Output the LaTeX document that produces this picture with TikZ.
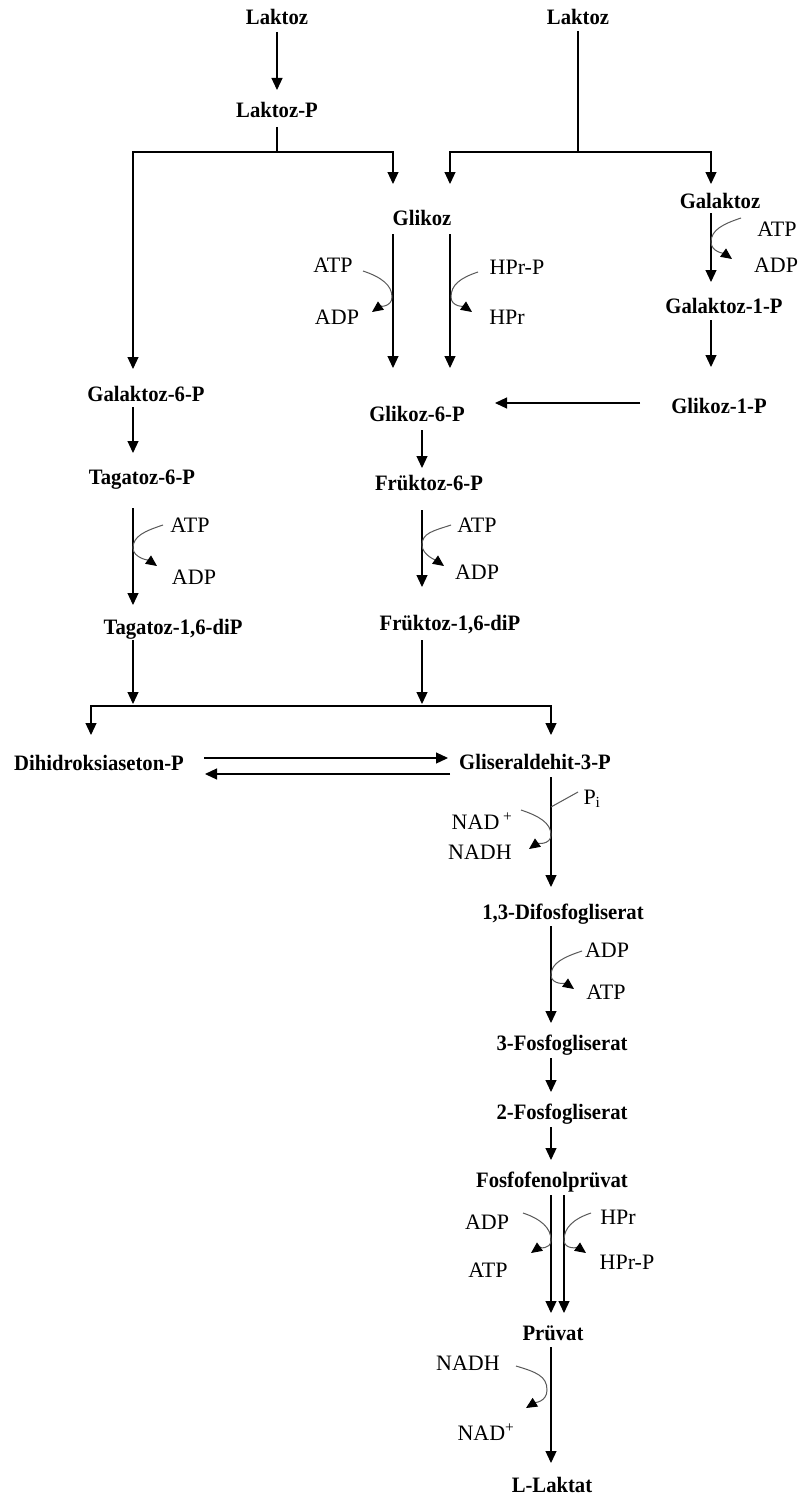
\documentclass[tikz,border=0pt]{standalone}
\usepackage{fontspec}
\setmainfont{Liberation Serif}
\newfontfamily\mlfont[FakeStretch=0.94]{Liberation Serif}
\usetikzlibrary{arrows.meta}
\tikzset{
  main/.style={font=\mlfont\bfseries\fontsize{22}{24}\selectfont, inner sep=0pt, text height=15pt, text depth=0pt},
  side/.style={font=\fontsize{22}{24}\selectfont, inner sep=0pt, text height=14pt, text depth=0pt},
  arr/.style={line width=1.2pt, -{Triangle[length=12pt,width=11pt]}},
  ln/.style={line width=1.2pt},
  curl/.style={line width=1pt, draw=black!65, -{Triangle[length=11pt,width=10pt,color=black,fill=black]}},
  thinln/.style={line width=1pt, draw=black!65},
}
\begin{document}
\begin{tikzpicture}[x=1pt,y=-1pt]
\fill[white] (0,0) rectangle (801,1501);
\useasboundingbox (0,0) rectangle (801,1501);
% column / row helpers
\coordinate (cL) at (133,0);
\coordinate (cG1) at (393,0);
\coordinate (cG2) at (450,0);
\coordinate (cF) at (422,0);
\coordinate (cGa) at (711,0);
\coordinate (cM) at (551,0);
\coordinate (cM2) at (564,0);
\coordinate (cD) at (91,0);
\coordinate (r1) at (0,403);
\coordinate (r2) at (0,706);
\coordinate (r3) at (0,758);
\coordinate (r4) at (0,774);
\coordinate (jA) at (277,152);
\coordinate (jB) at (578,152);
% main nodes
\node[main] (lakA) at (277,17) {Laktoz};
\node[main] (lakP) at (277,110) {Laktoz-P};
\node[main] (lakB) at (578,17) {Laktoz};
\node[main] (glk) at (422,218) {Glikoz};
\node[main] (gal) at (720,201) {Galaktoz};
\node[main] (gal1p) at (724,306) {Galaktoz-1-P};
\node[main] (glk1p) at (719,406) {Glikoz-1-P};
\node[main] (glk6p) at (417,414) {Glikoz-6-P};
\node[main] (gal6p) at (146,394) {Galaktoz-6-P};
\node[main] (tag6p) at (142,477) {Tagatoz-6-P};
\node[main] (tag16) at (173,627) {Tagatoz-1,6-diP};
\node[main] (fru6p) at (429,483) {Früktoz-6-P};
\node[main] (fru16) at (450,623) {Früktoz-1,6-diP};
\node[main] (dhap) at (99,763) {Dihidroksiaseton-P};
\node[main] (gap) at (535,762) {Gliseraldehit-3-P};
\node[main] (bpg) at (563,912) {1,3-Difosfogliserat};
\node[main] (pgA) at (562,1043) {3-Fosfogliserat};
\node[main] (pgB) at (562,1112) {2-Fosfogliserat};
\node[main] (pep) at (552,1180) {Fosfofenolprüvat};
\node[main] (pyr) at (553,1333) {Prüvat};
\node[main] (lac) at (552,1485) {L-Laktat};
% side labels
\node[side] (t1) at (333,265) {ATP};
\node[side] (t2) at (337,317) {ADP};
\node[side] (t3) at (517,267) {HPr-P};
\node[side] (t4) at (507,317) {HPr};
\node[side] (t5) at (777,229) {ATP};
\node[side] (t6) at (776,265) {ADP};
\node[side] (t7) at (190,525) {ATP};
\node[side] (t8) at (194,577) {ADP};
\node[side] (t9) at (477,525) {ATP};
\node[side] (t10) at (477,572) {ADP};
\node[side] (t11) at (592,797) {P\textsubscript{i}};
\node[side] (t12) at (482,822) {NAD\,\textsuperscript{+}};
\node[side] (t13) at (480,852) {NADH};
\node[side] (t14) at (607,950) {ADP};
\node[side] (t15) at (606,992) {ATP};
\node[side] (t16) at (487,1222) {ADP};
\node[side] (t17) at (488,1270) {ATP};
\node[side] (t18) at (618,1217) {HPr};
\node[side] (t19) at (627,1262) {HPr-P};
\node[side] (t20) at (468,1363) {NADH};
\node[side] (t21) at (486,1433) {NAD\textsuperscript{+}};
% main connectors
\draw[arr, shorten <=15pt, shorten >=20pt] (lakA.center) -- (lakP.center);
\draw[ln, shorten <=17pt] (lakP.center) -- (jA);
\draw[arr, shorten >=25pt] (jA) -| (gal6p.center -| cL);
\draw[arr, shorten >=34pt] (jA) -| (glk.center -| cG1);
\draw[ln, shorten <=14pt] (lakB.center) -- (jB);
\draw[arr, shorten >=34pt] (jB) -| (glk.center -| cG2);
\draw[arr, shorten >=17pt] (jB) -| (gal.center -| cGa);
\draw[arr, shorten <=16pt, shorten >=46pt] (glk.center -| cG1) -- (glk6p.center -| cG1);
\draw[arr, shorten <=16pt, shorten >=46pt] (glk.center -| cG2) -- (glk6p.center -| cG2);
\draw[arr, shorten <=12pt, shorten >=24pt] (gal.center -| cGa) -- (gal1p.center -| cGa);
\draw[arr, shorten <=14pt, shorten >=39pt] (gal1p.center -| cGa) -- (glk1p.center -| cGa);
\draw[arr, shorten <=79pt, shorten >=78pt] (glk1p.center |- r1) -- (glk6p.center |- r1);
\draw[arr, shorten <=16pt, shorten >=15pt] (glk6p.center -| cF) -- (fru6p.center -| cF);
\draw[arr, shorten <=13pt, shorten >=24pt] (gal6p.center -| cL) -- (tag6p.center -| cL);
\draw[arr, shorten <=31pt, shorten >=22pt] (tag6p.center -| cL) -- (tag16.center -| cL);
\draw[arr, shorten <=27pt, shorten >=36pt] (fru6p.center -| cF) -- (fru16.center -| cF);
\draw[arr, shorten <=13pt, shorten >=2pt] (tag16.center -| cL) -- (cL |- r2);
\draw[arr, shorten <=17pt, shorten >=2pt] (fru16.center -| cF) -- (cF |- r2);
\draw[arr, shorten >=28pt] (cF |- r2) -| (dhap.center -| cD);
\draw[arr, shorten >=27pt] (cF |- r2) -| (gap.center -| cM);
\draw[arr, shorten <=105pt, shorten >=87pt] (dhap.center |- r3) -- (gap.center |- r3);
\draw[arr, shorten <=85pt, shorten >=106pt] (gap.center |- r4) -- (dhap.center |- r4);
\draw[arr, shorten <=15pt, shorten >=25pt] (gap.center -| cM) -- (bpg.center -| cM);
\draw[arr, shorten <=14pt, shorten >=20pt] (bpg.center -| cM) -- (pgA.center -| cM);
\draw[arr, shorten <=15pt, shorten >=20pt] (pgA.center -| cM) -- (pgB.center -| cM);
\draw[arr, shorten <=15pt, shorten >=20pt] (pgB.center -| cM) -- (pep.center -| cM);
\draw[arr, shorten <=15pt, shorten >=20pt] (pep.center -| cM) -- (pyr.center -| cM);
\draw[arr, shorten <=15pt, shorten >=20pt] (pep.center -| cM2) -- (pyr.center -| cM2);
\draw[arr, shorten <=14pt, shorten >=22pt] (pyr.center -| cM) -- (lac.center -| cM);
% side curls
\coordinate (a1) at (363,271); \coordinate (a2) at (392,297); \coordinate (a3) at (372,312);
\draw[curl] (a1) .. controls +(18,6) and +(0,-12) .. (a2) .. controls +(0,10) and +(7,-5) .. (a3);
\coordinate (b1) at (478,272); \coordinate (b2) at (451,297); \coordinate (b3) at (472,312);
\draw[curl] (b1) .. controls +(-18,6) and +(0,-12) .. (b2) .. controls +(0,10) and +(-7,-5) .. (b3);
\coordinate (c1) at (741,218); \coordinate (c2) at (711,242); \coordinate (c3) at (732,259);
\draw[curl] (c1) .. controls +(-18,6) and +(0,-12) .. (c2) .. controls +(0,10) and +(-7,-5) .. (c3);
\coordinate (d1) at (163,525); \coordinate (d2) at (133,548); \coordinate (d3) at (157,566);
\draw[curl] (d1) .. controls +(-18,6) and +(0,-12) .. (d2) .. controls +(0,10) and +(-7,-5) .. (d3);
\coordinate (e1) at (451,525); \coordinate (e2) at (422,545); \coordinate (e3) at (444,566);
\draw[curl] (e1) .. controls +(-18,6) and +(0,-12) .. (e2) .. controls +(0,10) and +(-7,-5) .. (e3);
\coordinate (f1) at (521,810); \coordinate (f2) at (551,835); \coordinate (f3) at (529,849);
\draw[curl] (f1) .. controls +(18,6) and +(0,-12) .. (f2) .. controls +(0,10) and +(7,-5) .. (f3);
\coordinate (g1) at (578,792); \coordinate (g2) at (551,807);
\draw[thinln] (g1) -- (g2);
\coordinate (h1) at (582,951); \coordinate (h2) at (551,975); \coordinate (h3) at (574,989);
\draw[curl] (h1) .. controls +(-18,6) and +(0,-12) .. (h2) .. controls +(0,10) and +(-7,-5) .. (h3);
\coordinate (i1) at (523,1213); \coordinate (i2) at (551,1240); \coordinate (i3) at (531,1253);
\draw[curl] (i1) .. controls +(18,6) and +(0,-12) .. (i2) .. controls +(0,10) and +(7,-5) .. (i3);
\coordinate (k1) at (591,1213); \coordinate (k2) at (564,1240); \coordinate (k3) at (586,1253);
\draw[curl] (k1) .. controls +(-18,6) and +(0,-12) .. (k2) .. controls +(0,10) and +(-7,-5) .. (k3);
\coordinate (m1) at (516,1366); \coordinate (m2) at (547,1390); \coordinate (m3) at (526,1408);
\draw[curl] (m1) .. controls +(20,6) and +(0,-14) .. (m2) .. controls +(0,12) and +(8,-5) .. (m3);
\end{tikzpicture}
\end{document}
